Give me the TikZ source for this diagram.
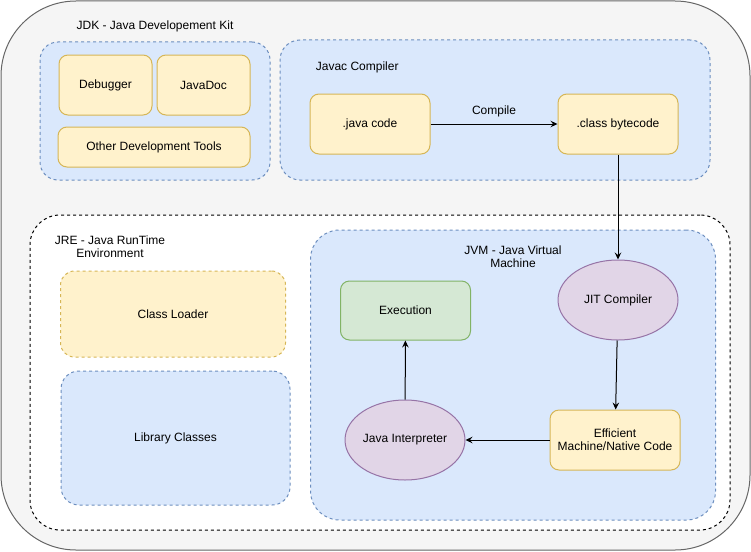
\documentclass[tikz,border=0pt]{standalone}
\usepackage{fontspec}
\setmainfont{Liberation Sans}
\usetikzlibrary{arrows.meta,shapes.geometric}

\definecolor{outerfill}{HTML}{F5F5F5}
\definecolor{outerline}{HTML}{666666}
\definecolor{bluefill}{HTML}{DAE8FC}
\definecolor{blueline}{HTML}{6C8EBF}
\definecolor{yellowfill}{HTML}{FFF2CC}
\definecolor{yellowline}{HTML}{D6B656}
\definecolor{greenfill}{HTML}{D5E8D4}
\definecolor{greenline}{HTML}{82B366}
\definecolor{purplefill}{HTML}{E1D5E7}
\definecolor{purpleline}{HTML}{9673A6}

\begin{document}
\begin{tikzpicture}[x=1pt, y=-1pt, font=\fontsize{12}{14}\selectfont, line width=1pt,
    box/.style={rectangle, inner sep=0pt, rounded corners=9pt},
    bluepanel/.style={box, draw=blueline, fill=bluefill, dash pattern=on 3pt off 3pt},
    toolbox/.style={box, draw=yellowline, fill=yellowfill},
    blob/.style={ellipse, inner sep=0pt, draw=purpleline, fill=purplefill, minimum width=120pt, minimum height=80pt},
    flow/.style={-{Stealth[length=7pt, width=6.5pt, inset=2.5pt]}, line width=1pt}]
  \useasboundingbox (0,0) rectangle (751,551);

  % JDK
  \node[box, draw=outerline, fill=outerfill, rounded corners=75pt, minimum width=749pt, minimum height=549pt] (jdk) at (375.5,275.5) {};
  \node (jdklabel) at (155,26.5) {JDK - Java Developement Kit};

  \node[bluepanel, rounded corners=18pt, minimum width=230pt, minimum height=138pt] (tools) at (155,111) {};
  \node[toolbox, minimum width=93pt, minimum height=60pt] (debugger) at (105.5,85) {Debugger};
  \node[toolbox, minimum width=93pt, minimum height=60pt] (javadoc) at (203.5,85) {JavaDoc};
  \node[toolbox, minimum width=192pt, minimum height=40pt] (othertools) at (154,147) {Other Development Tools};

  % Javac
  \node[bluepanel, rounded corners=20pt, minimum width=430pt, minimum height=140pt] (javac) at (495,110) {};
  \node[anchor=west] (javaclabel) at (312,67.5) {Javac Compiler};
  \node[toolbox, minimum width=120pt, minimum height=60pt] (javacode) at (370,124) {.java code};
  \node[toolbox, minimum width=120pt, minimum height=60pt] (classcode) at (618,124) {.class bytecode};
  \draw[flow] (javacode) -- node[above=3pt] (compile) {Compile} (classcode);

  % JRE
  \node[box, draw=black, fill=white, rounded corners=30pt, dash pattern=on 3pt off 3pt, minimum width=700pt, minimum height=315pt] (jre) at (380,372.5) {};
  \node[align=center, font=\fontsize{12}{13}\selectfont] (jrelabel) at (110,246.5) {JRE - Java RunTime\\Environment};
  \node[toolbox, dash pattern=on 3pt off 3pt, rounded corners=14pt, minimum width=225pt, minimum height=86pt] (loader) at (173,314) {Class Loader};
  \node[bluepanel, rounded corners=18pt, minimum width=229pt, minimum height=134pt] (library) at (175.5,438) {Library Classes};

  % JVM
  \node[bluepanel, rounded corners=29pt, minimum width=405pt, minimum height=290pt] (jvm) at (513,375) {};
  \node[align=center, font=\fontsize{12}{13}\selectfont] (jvmlabel) at (513,256.5) {JVM - Java Virtual\\Machine};
  \node[box, draw=greenline, fill=greenfill, minimum width=130pt, minimum height=59pt] (execution) at (405.5,310.5) {Execution};
  \node[blob] (jit) at (618,300) {JIT Compiler};
  \node[blob] (interpreter) at (405,440) {Java Interpreter};
  \node[toolbox, align=center, font=\fontsize{12}{13}\selectfont, minimum width=130pt, minimum height=60pt] (native) at (615,440) {Efficient\\Machine/Native Code};

  \draw[flow] (classcode) -- (jit);
  \draw[flow] (jit) -- (native);
  \draw[flow] (native) -- (interpreter);
  \draw[flow] (interpreter) -- (execution);
\end{tikzpicture}
\end{document}
